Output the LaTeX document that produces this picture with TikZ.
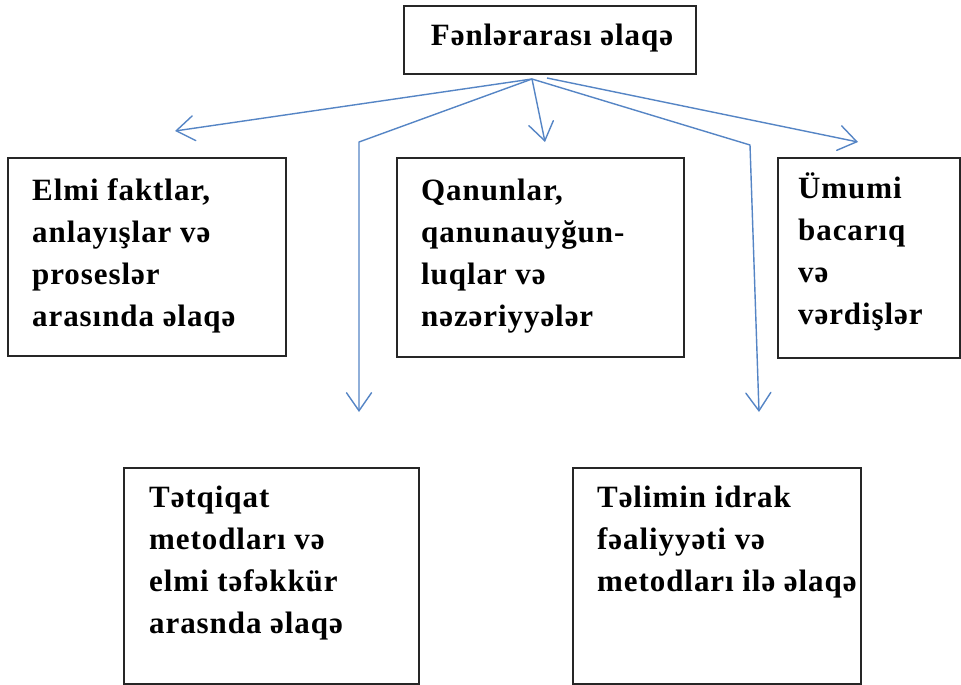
\documentclass[tikz,border=0pt]{standalone}
\usepackage{fontspec}
\setmainfont{Liberation Serif}[LetterSpace=3, BoldFont={Liberation Serif Bold}]
\usetikzlibrary{arrows.meta}
\definecolor{linkblue}{HTML}{5585C5}
\begin{document}
\begin{tikzpicture}[x=1pt,y=-1pt,
  panel/.style={draw=black!85, line width=1.6pt, anchor=north west, inner sep=0pt},
  % multi-line texts are placed by the baseline of their last line
  boxtext/.style={anchor=base west, align=left, inner sep=0pt,
    font=\bfseries\fontsize{31}{42}\selectfont},
  link/.style={draw=linkblue, line width=1.4pt, line join=round,
    -{Straight Barb[length=18pt,width=25pt,line cap=round]}}]
  % canvas
  \fill[white] (0,0) rectangle (961,685);
  \useasboundingbox (0,0) rectangle (961,685);

  % frames
  \node[panel, minimum width=292pt, minimum height=68pt] (top) at (403,5) {};
  \node[panel, minimum width=278pt, minimum height=198pt] (b1) at (7,157) {};
  \node[panel, minimum width=287pt, minimum height=199pt] (b2) at (396,157) {};
  \node[panel, minimum width=182pt, minimum height=200pt] (b3) at (777,157) {};
  \node[panel, minimum width=295pt, minimum height=216pt] (b4) at (123,467) {};
  \node[panel, minimum width=288pt, minimum height=216pt] (b5) at (572,467) {};

  % texts
  \node[anchor=base, inner sep=0pt, font=\bfseries\fontsize{31}{42}\selectfont]
    (ttop) at (552,46) {Fənlərarası əlaqə};
  \node[boxtext] (t1) at (32,326) {Elmi faktlar,\\anlayışlar və\\proseslər\\arasında əlaqə};
  \node[boxtext] (t2) at (421,326) {Qanunlar,\\qanunauyğun-\\luqlar və\\nəzəriyyələr};
  \node[boxtext] (t3) at (798,324) {Ümumi\\bacarıq\\və\\vərdişlər};
  \node[boxtext] (t4) at (149,633) {Tətqiqat\\metodları və\\elmi təfəkkür\\arasnda əlaqə};
  \node[boxtext] (t5) at (597,591) {Təlimin idrak\\fəaliyyəti və\\metodları ilə əlaqə};

  % connector points
  \coordinate (hub) at (532,79);
  \coordinate (hubr) at (547,78);
  \coordinate (tip1) at (175,131);
  \coordinate (bend2) at (359,142);
  \coordinate (tip2) at (359,412);
  \coordinate (tip3) at (545,142);
  \coordinate (tip4) at (858,142);
  \coordinate (bend5) at (750,145);
  \coordinate (tip5) at (759,412);

  % connectors
  \draw[link] (hub) -- (tip1);
  \draw[link] (hub) -- (bend2) -- (tip2);
  \draw[link] (hub) -- (tip3);
  \draw[link] (hubr) -- (tip4);
  \draw[link] (hub) -- (bend5) -- (tip5);
\end{tikzpicture}
\end{document}
